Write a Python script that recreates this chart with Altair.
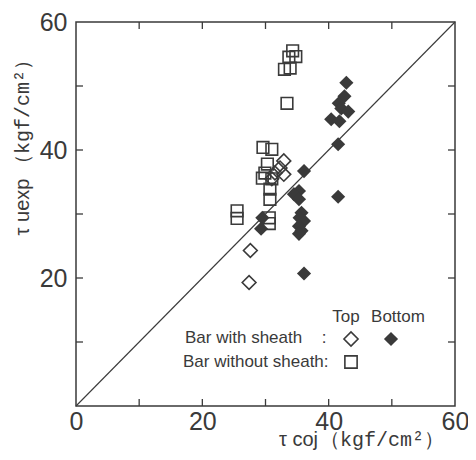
import altair as alt
import pandas as pd

# ---- data ----
bottom_x = [42.8, 42.5, 41.6, 42.0, 43.1, 40.4, 41.7, 41.5, 36.1, 41.5, 35.3, 34.5,
            35.3, 35.7, 35.4, 36.1, 35.3, 35.7, 35.3, 36.1, 29.5, 29.3]
bottom_y = [50.5, 48.4, 47.3, 46.5, 46.0, 44.8, 44.5, 40.9, 36.7, 32.7, 33.6, 33.1,
            32.3, 30.2, 29.4, 28.9, 28.1, 27.4, 26.9, 20.7, 29.4, 27.7]

top_x = [27.4, 27.6, 32.9, 32.3, 32.9, 31.5, 31.0]
top_y = [19.3, 24.3, 38.3, 37.2, 36.2, 36.4, 35.5]

nosheath_x = [34.3, 34.8, 33.7, 33.0, 33.9, 33.4, 29.6, 31.0, 30.3, 29.9, 29.5,
              31.0, 30.7, 30.7, 30.6, 30.6, 25.5, 25.5]
nosheath_y = [55.5, 54.6, 54.5, 52.6, 52.8, 47.3, 40.4, 40.1, 37.8, 36.4, 35.6,
              35.5, 33.9, 32.3, 29.4, 28.5, 30.5, 29.3]

x_labels = [0, 20, 40, 60]
y_labels = [20, 40, 60]
minor_ticks = [10, 20, 30, 40, 50]
line_x = [0, 60]
line_y = [0, 60]

W, H = 379, 384
INK = "#3a3a3a"
FONT = "Liberation Sans"

xs = alt.Scale(domain=[0, 60], nice=False, zero=False)
ys = alt.Scale(domain=[0, 60], nice=False, zero=False)
xaxis = alt.Axis(values=x_labels, ticks=False, domain=False, grid=False, title=None,
                 labelFont=FONT, labelFontSize=25, labelColor=INK, labelPadding=3,
                 labelFlush=False)
yaxis = alt.Axis(values=y_labels, ticks=False, domain=False, grid=False, title=None,
                 labelFont=FONT, labelFontSize=25, labelColor=INK, labelPadding=9)


def X(f):
    return alt.X(f, type="quantitative", scale=xs, axis=xaxis)


def Y(f):
    return alt.Y(f, type="quantitative", scale=ys, axis=yaxis)


df_bottom = pd.DataFrame({"x": bottom_x, "y": bottom_y})
df_top = pd.DataFrame({"x": top_x, "y": top_y})
df_sq = pd.DataFrame({"x": nosheath_x, "y": nosheath_y})
df_line = pd.DataFrame({"x": line_x, "y": line_y})
df_ticks = pd.DataFrame({"v": minor_ticks})

diag = alt.Chart(df_line).mark_line(color=INK, strokeWidth=1.1).encode(x=X("x"), y=Y("y"))

sq = alt.Chart(df_sq).mark_point(shape="square", filled=False, color=INK, size=135,
                                 strokeWidth=1.6, opacity=1).encode(x=X("x"), y=Y("y"))
topd = alt.Chart(df_top).mark_point(shape="diamond", filled=False, color=INK, size=190,
                                    strokeWidth=1.6, opacity=1).encode(x=X("x"), y=Y("y"))
botd = alt.Chart(df_bottom).mark_point(shape="diamond", filled=True, color=INK, size=200,
                                       opacity=1).encode(x=X("x"), y=Y("y"))

TL = 7
tick_left = alt.Chart(df_ticks).mark_rule(color=INK, strokeWidth=1.3).encode(
    y=Y("v"), x=alt.value(0), x2=alt.value(TL))
tick_right = alt.Chart(df_ticks).mark_rule(color=INK, strokeWidth=1.3).encode(
    y=Y("v"), x=alt.value(W - TL), x2=alt.value(W))
tick_bottom = alt.Chart(df_ticks).mark_rule(color=INK, strokeWidth=1.3).encode(
    x=X("v"), y=alt.value(H - TL), y2=alt.value(H))
tick_top = alt.Chart(df_ticks).mark_rule(color=INK, strokeWidth=1.3).encode(
    x=X("v"), y=alt.value(0), y2=alt.value(TL))


def label(text, x, y, size=17, align="left", font=FONT, angle=0, baseline="middle"):
    return alt.Chart(pd.DataFrame({"t": [text]})).mark_text(
        align=align, baseline=baseline, font=font, fontSize=size, color=INK, angle=angle
    ).encode(text="t:N", x=alt.value(x), y=alt.value(y))


def symbol(shape, filled, x, y, size):
    return alt.Chart(pd.DataFrame({"t": [0]})).mark_point(
        shape=shape, filled=filled, color=INK, size=size, strokeWidth=1.6, opacity=1
    ).encode(x=alt.value(x), y=alt.value(y))


legend = [
    label("Top", 270, 295, align="center"),
    label("Bottom", 322, 295, align="center"),
    label("Bar with sheath", 109, 316),
    label(":", 248, 316, align="center"),
    label("Bar without sheath:", 107, 340),
    symbol("diamond", False, 275, 317, 200),
    symbol("diamond", True, 315, 317, 200),
    symbol("square", False, 275, 340, 150),
]

titles = [
    label("τ uexp", -53, 185, size=20, align="center", angle=270),
    label("（kgf/cm²）", -53, 90, size=20, align="center", angle=270,
          font="Liberation Mono"),
    label("τ coj", 242, 424, size=20, align="right", baseline="alphabetic"),
    label("（kgf/cm²）", 368, 424, size=20, align="right", baseline="alphabetic",
          font="Liberation Mono"),
]

chart = alt.layer(
    diag, tick_left, tick_right, tick_bottom, tick_top, sq, topd, botd, *legend, *titles
).properties(
    width=W, height=H,
    autosize=alt.AutoSizeParams(type="none"),
    padding={"left": 68, "top": 14, "right": 13, "bottom": 46},
).configure_view(stroke=INK, strokeWidth=1.5)

chart.save("out.html", embed_options={"renderer": "svg", "actions": False})
